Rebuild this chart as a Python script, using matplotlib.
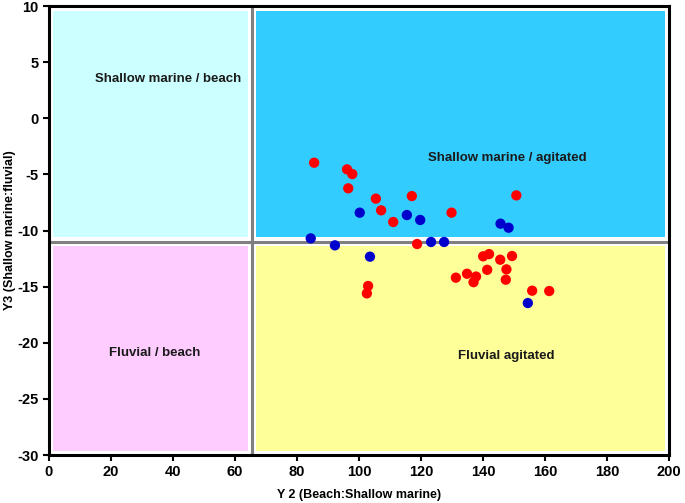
import matplotlib.pyplot as plt
from matplotlib.patches import Rectangle

plt.rcParams['font.family'] = ['Liberation Sans', 'DejaVu Sans']
plt.rcParams['axes.unicode_minus'] = False

# samples plotted as Y2 (x) vs Y3 (y)
red_x = [85.5, 96.1, 97.8, 96.5, 105.4, 117.0, 107.1, 111.0, 129.8, 150.7, 118.7,
         102.9, 102.5, 131.2, 134.8, 137.7, 136.9, 140.0, 141.9, 145.5, 149.3,
         141.3, 147.5, 147.3, 155.8, 161.3]
red_y = [-3.96, -4.55, -4.97, -6.24, -7.16, -6.93, -8.2, -9.24, -8.41, -6.87, -11.2,
         -14.94, -15.6, -14.2, -13.85, -14.1, -14.6, -12.3, -12.1, -12.6, -12.27,
         -13.5, -13.46, -14.38, -15.36, -15.39]
blue_x = [100.2, 115.4, 119.7, 145.6, 148.2, 84.4, 92.2, 123.2, 127.4, 103.5, 154.4]
blue_y = [-8.41, -8.62, -9.06, -9.39, -9.75, -10.7, -11.32, -11.02, -11.02, -12.33, -16.46]

# field boundaries
y2_cut = 65.4
y3_cut = -11.0
xmin, xmax, ymin, ymax = 0, 200, -30, 10

fig = plt.figure(figsize=(6.85, 5.03), dpi=100)
ax = fig.add_axes([0.0715, 0.0954, 0.9055, 0.8926])
ax.set_xlim(xmin, xmax)
ax.set_ylim(ymin, ymax)

px, py = 1.3, 0.4
fields = [
    (xmin, y3_cut, y2_cut, ymax, '#ccffff'),
    (y2_cut, y3_cut, xmax, ymax, '#33ccff'),
    (xmin, ymin, y2_cut, y3_cut, '#ffccff'),
    (y2_cut, ymin, xmax, y3_cut, '#ffff99'),
]
for x0, y0, x1, y1, c in fields:
    ax.add_patch(Rectangle((x0 + px, y0 + py), x1 - x0 - 2 * px, y1 - y0 - 2 * py,
                           facecolor=c, edgecolor='none', zorder=1))

ax.axvline(y2_cut, color='#808080', lw=2.2, zorder=2)
ax.axhline(y3_cut, color='#808080', lw=2.2, zorder=2)

ax.scatter(red_x, red_y, s=55, color='#ff0000', edgecolors='none', zorder=3)
ax.scatter(blue_x, blue_y, s=55, color='#0000cc', edgecolors='none', zorder=3)

lab = dict(fontsize=9.5, fontweight='bold', ha='center', va='center', color='#1a1a1a')
ax.text(38.4, 3.5, 'Shallow marine / beach', **lab)
ax.text(147.7, -3.5, 'Shallow marine / agitated', **lab)
ax.text(34.2, -20.9, 'Fluvial / beach', **lab)
ax.text(147.4, -21.2, 'Fluvial agitated', **lab)

ax.set_xticks(range(0, 201, 20))
ax.set_yticks(range(-30, 11, 5))
ax.tick_params(labelsize=10.5, width=1.5, length=4)
for t in ax.get_xticklabels() + ax.get_yticklabels():
    t.set_fontweight('bold')
for s in ax.spines.values():
    s.set_linewidth(2.2)

ax.set_xlabel('Y 2 (Beach:Shallow marine)', fontsize=9, fontweight='bold', labelpad=7)
ax.set_ylabel('Y3 (Shallow marine:fluvial)', fontsize=9, fontweight='bold', labelpad=1)

fig.savefig('out.png', dpi=100)
